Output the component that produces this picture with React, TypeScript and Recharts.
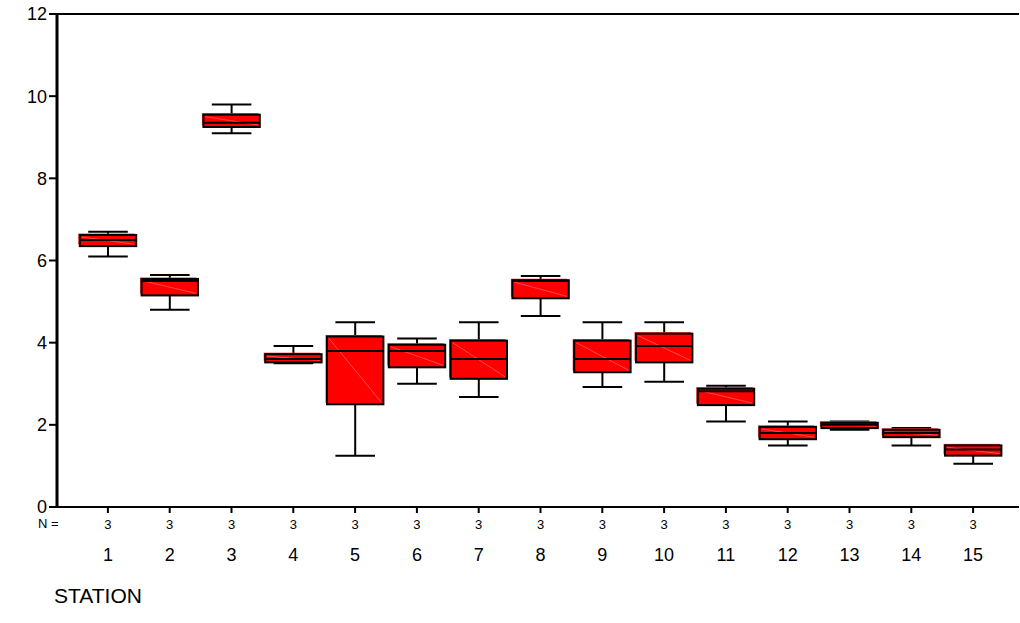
import React from "react";
import { ComposedChart, Bar, XAxis, YAxis, ReferenceLine } from "recharts";

const stations = ["1", "2", "3", "4", "5", "6", "7", "8", "9", "10", "11", "12", "13", "14", "15"];
const lows = [6.1, 4.8, 9.1, 3.5, 1.25, 3.0, 2.68, 4.65, 2.92, 3.05, 2.08, 1.5, 1.88, 1.5, 1.05];
const q1s = [6.35, 5.15, 9.25, 3.52, 2.5, 3.4, 3.12, 5.08, 3.28, 3.52, 2.48, 1.65, 1.92, 1.7, 1.25];
const medians = [6.5, 5.5, 9.35, 3.6, 3.8, 3.8, 3.6, 5.5, 3.6, 3.92, 2.82, 1.8, 2.0, 1.8, 1.4];
const q3s = [6.62, 5.55, 9.55, 3.72, 4.15, 3.95, 4.05, 5.52, 4.05, 4.22, 2.88, 1.95, 2.05, 1.88, 1.5];
const highs = [6.7, 5.65, 9.8, 3.92, 4.5, 4.1, 4.5, 5.62, 4.5, 4.5, 2.95, 2.08, 2.08, 1.92, 1.5];
const counts = [3, 3, 3, 3, 3, 3, 3, 3, 3, 3, 3, 3, 3, 3, 3];
const yTicks = [0, 2, 4, 6, 8, 10, 12];

const data = stations.map((s, i) => ({
  station: s,
  range: [lows[i], highs[i]],
  lo: lows[i],
  q1: q1s[i],
  med: medians[i],
  q3: q3s[i],
  hi: highs[i],
  n: counts[i],
}));

const font = "'Liberation Sans', Arial, sans-serif";

const BoxShape = (props: any) => {
  const { x, y, width, height, payload } = props;
  const { lo, q1, med, q3, hi } = payload;
  const k = height / (hi - lo);
  const py = (v: number) => y + (hi - v) * k;
  const cx = x + width / 2;
  const bw = width * 0.94;
  const bx = cx - bw / 2;
  const cap = width * 0.66;
  const top = py(q3);
  const bot = py(q1);
  return (
    <g>
      <line x1={cx} x2={cx} y1={py(hi)} y2={top} stroke="#000" strokeWidth={2} />
      <line x1={cx} x2={cx} y1={bot} y2={py(lo)} stroke="#000" strokeWidth={2} />
      <line x1={cx - cap / 2} x2={cx + cap / 2} y1={py(hi)} y2={py(hi)} stroke="#000" strokeWidth={2} />
      <line x1={cx - cap / 2} x2={cx + cap / 2} y1={py(lo)} y2={py(lo)} stroke="#000" strokeWidth={2} />
      <rect x={bx - 1.5} y={top - 1.5} width={bw} height={Math.max(bot - top, 1)} fill="#ff3030" />
      <rect x={bx} y={top} width={bw} height={Math.max(bot - top, 1)} fill="#ff0000" stroke="#000" strokeWidth={2} />
      <line x1={bx + 2} y1={top + 2} x2={bx + bw - 2} y2={bot - 2} stroke="#ff8080" strokeWidth={0.6} />
      <line x1={bx} x2={bx + bw} y1={py(med)} y2={py(med)} stroke="#000" strokeWidth={2} />
    </g>
  );
};

const StationTick = (props: any) => {
  const { x, y, payload, index } = props;
  return (
    <g>
      <text x={x} y={y + 14} textAnchor="middle" fontSize={13} fontFamily={font} fill="#000">
        {counts[index]}
      </text>
      <text x={x} y={y + 46} textAnchor="middle" fontSize={18} fontFamily={font} fill="#000">
        {payload.value}
      </text>
    </g>
  );
};

export default function App() {
  return (
    <div style={{ position: "absolute", left: 0, top: 0, width: 1020, height: 623, background: "#fff" }}>
      <ComposedChart
        width={1020}
        height={623}
        data={data}
        barCategoryGap={1}
        margin={{ top: 14, right: 1, left: 12, bottom: 56 }}
      >
        <XAxis
          dataKey="station"
          padding={{ left: 20, right: 15 }}
          tick={<StationTick />}
          tickLine={{ stroke: "#000", strokeWidth: 2 }}
          tickSize={6}
          axisLine={{ stroke: "#000", strokeWidth: 2 }}
          interval={0}
          height={60}
        />
        <YAxis
          domain={[0, 12]}
          ticks={yTicks}
          width={45}
          tick={{ fontSize: 18, fontFamily: font, fill: "#000" }}
          tickLine={{ stroke: "#000", strokeWidth: 2 }}
          tickSize={8}
          axisLine={{ stroke: "#000", strokeWidth: 3 }}
        />
        <ReferenceLine y={12} stroke="#000" strokeWidth={2} />
        <Bar dataKey="range" shape={<BoxShape />} isAnimationActive={false} />
      </ComposedChart>
      <div style={{ position: "absolute", left: 38, top: 516, fontSize: 13, fontFamily: font }}>N =</div>
      <div style={{ position: "absolute", left: 54, top: 584, fontSize: 21, fontFamily: font }}>STATION</div>
    </div>
  );
}
